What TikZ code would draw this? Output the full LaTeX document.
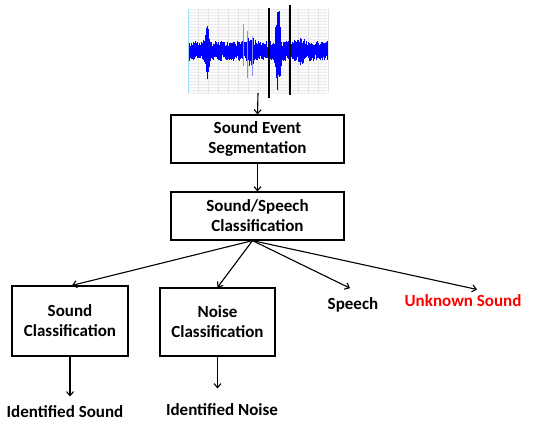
\documentclass[tikz,border=0pt]{standalone}
\usepackage{fontspec}
\setmainfont{Carlito}
\usetikzlibrary{arrows.meta}
\tikzset{
  blk/.style={draw, line width=1.2pt, align=center, inner sep=0pt,
    font=\bfseries\fontsize{17}{20}\selectfont},
  lbl/.style={align=center, font=\bfseries\fontsize{17}{20}\selectfont},
  arr/.style={-{Straight Barb[length=4pt,width=7pt]}, line width=1.1pt},
  gridc/.style={gray!22, line width=0.4pt},
  wavec/.style={blue, line width=0.7pt}
}
\begin{document}
\begin{tikzpicture}[x=1pt, y=-1pt]
  \useasboundingbox (0,0) rectangle (533,424);
  % waveform
  \fill[gray!4] (188,9) rectangle (327,93);
  \foreach \gy in {9,12,...,93} \draw[gridc, gray!14] (188,\gy) -- (327,\gy);
  \foreach \gx in {188,198,...,328} \draw[gridc] (\gx,9) -- (\gx,93);
  \draw[cyan!40, line width=0.6pt] (188,9) -- (188,93);
  \pgfmathsetseed{11}
  \foreach \i in {0,...,276} {
    \pgfmathsetmacro\xx{189+0.5*\i}
    \pgfmathsetmacro\env{10+22*max(0,1-abs(\xx-207)/4)+40*max(0,1-abs(\xx-278)/4)+8*max(0,1-abs(\xx-250)/6)+4*max(0,1-abs(\xx-300)/10)}
    \pgfmathsetmacro\up{\env*(0.4+0.6*rnd)}
    \pgfmathsetmacro\dn{\env*(0.4+0.6*rnd)}
    \draw[wavec] (\xx,51-\up) -- (\xx,51+\dn);
  }
  \draw[wavec, blue!45] (243,24) -- (243,66);
  \draw[wavec, blue!45] (247,31) -- (247,78);
  \draw[wavec, blue!45] (252,36) -- (252,76);
  \draw[line width=1.4pt] (269,8) -- (269,98);
  \draw[line width=1.4pt] (290,5) -- (290,95);
  \node[minimum width=139, minimum height=84, inner sep=0pt] (wave) at (258,51) {};

  % boxes
  \node[blk, minimum width=173, minimum height=48] (seg) at (257.5,139) {Sound Event\\Segmentation};
  \node[blk, minimum width=173, minimum height=48] (cls) at (257.5,216) {Sound/Speech\\Classification};
  \node[blk, minimum width=116, minimum height=70] (sndcls) at (70,321) {Sound\\Classification};
  \node[blk, minimum width=115, minimum height=68] (noicls) at (217.5,322) {Noise\\Classification};
  \node[lbl] (speech) at (353,305) {Speech};
  \node[lbl, text=red] (unknown) at (463,301) {Unknown Sound};
  \node[lbl] (idsnd) at (65,412) {Identified Sound};
  \node[lbl] (idnoi) at (222,410) {Identified Noise};

  % connectors
  \draw[arr] (wave.south) -- (seg.north);
  \draw[arr] (seg.south) -- (cls.north);
  \draw[arr] ([xshift=-5pt]cls.south) -- ([xshift=2pt]sndcls.north);
  \draw[arr] ([xshift=-5pt]cls.south) -- (noicls.north);
  \draw[arr] ([xshift=-5pt]cls.south) -- ([xshift=-3pt,yshift=6pt]speech.north);
  \draw[arr] ([xshift=-5pt]cls.south) -- ([xshift=14pt,yshift=2pt]unknown.north);
  \draw[arr, shorten >=6pt] (sndcls.south) -- (sndcls.south |- idsnd.north);
  \draw[arr, shorten >=12pt] (noicls.south) -- (noicls.south |- idnoi.north);
\end{tikzpicture}
\end{document}
